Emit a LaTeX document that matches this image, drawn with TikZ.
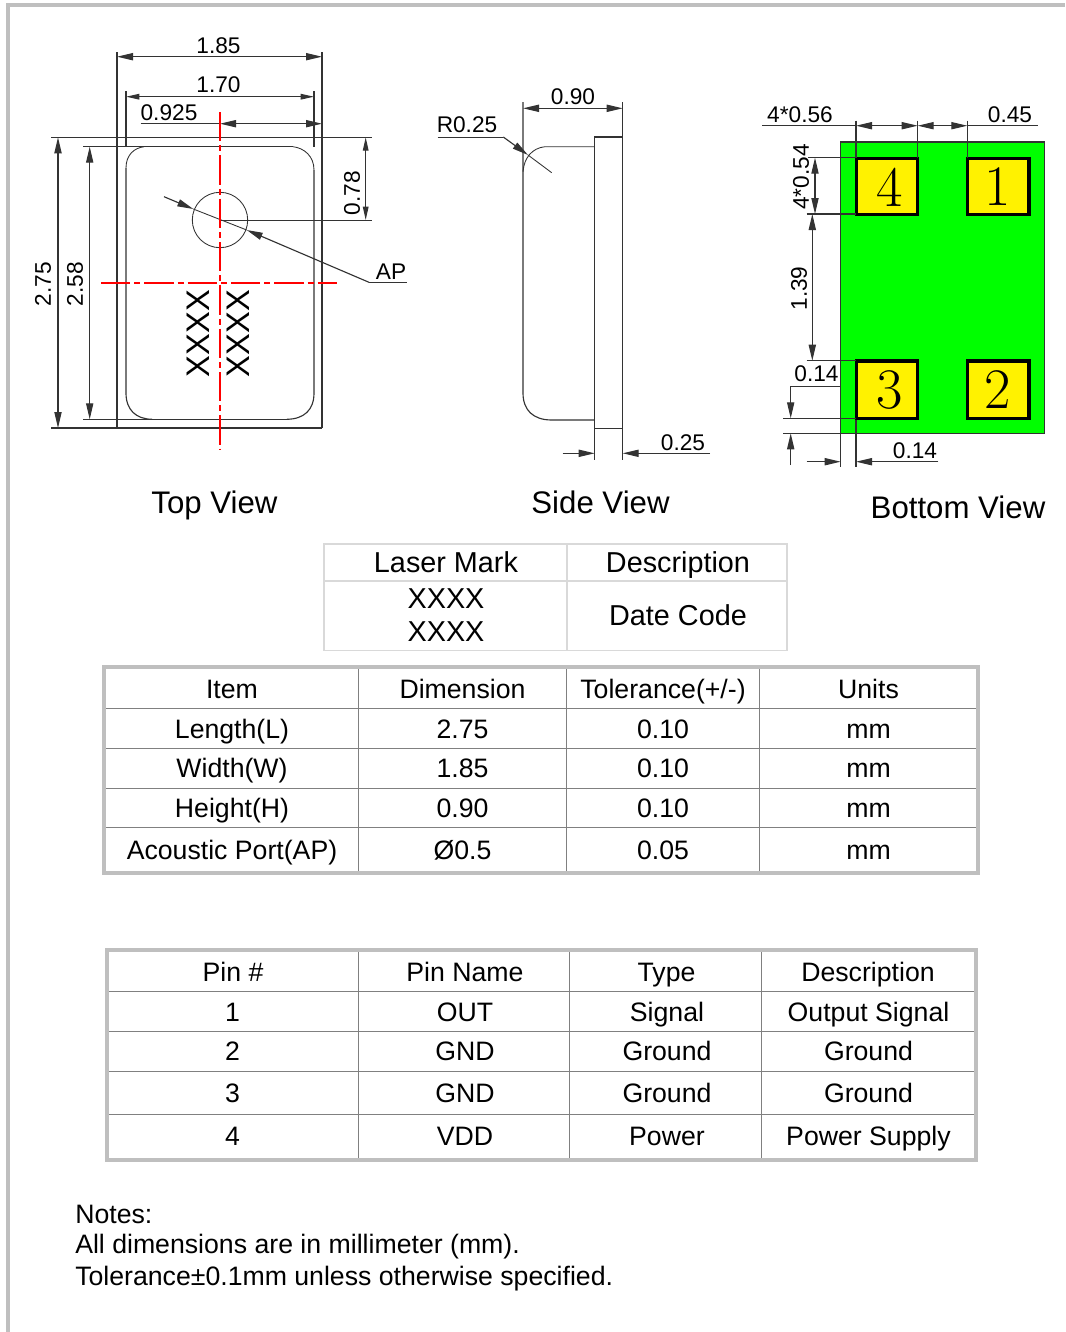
\documentclass[tikz,border=0pt]{standalone}
\usepackage{fontspec}
\setsansfont{Liberation Sans}
\usetikzlibrary{arrows.meta}
\tikzset{
  >={Triangle[length=12pt,width=5.4pt]},
  outline/.style={draw=black!80,line width=0.85pt},
  thin outline/.style={draw=black!80,line width=0.65pt},
  dim/.style={outline,<->},
  dim small/.style={outline,<->,>={Triangle[length=10pt,width=4.2pt]}},
  lead/.style={outline,->},
  center line/.style={draw={rgb, 255:red, 255; green, 0; blue, 0},line width=1.2pt,dash pattern=on 22pt off 3pt on 4.5pt off 3pt},
  dimlabel/.style={inner sep=0pt,font=\sffamily\fontsize{17}{20}\selectfont},
  viewlabel/.style={inner sep=0pt,font=\sffamily\fontsize{23.4}{27}\selectfont},
  marklabel/.style={inner sep=0pt,rotate=90,font=\sffamily\fontsize{24.5}{28}\selectfont},
  padnum/.style={inner sep=0pt,font=\rmfamily\fontsize{43}{50}\selectfont},
  pad/.style={draw=black,fill=yellow,line width=2.6pt},
  cell/.style={inner sep=0pt,anchor=base,font=\sffamily\fontsize{20}{24}\selectfont},
  markcell/.style={inner sep=0pt,anchor=base,font=\sffamily\fontsize{21.6}{26}\selectfont},
  frame/.style={draw=black!25,line width=2.8pt},
  grid/.style={draw=black!50,line width=0.7pt},
  markgrid/.style={draw=black!15,line width=1.2pt}
}

\begin{document}
\begin{tikzpicture}[x=0.75pt,y=0.75pt,yscale=-1,xscale=1]
\useasboundingbox (0,0) rectangle (1065,1332);

%Page border
\draw [frame,line width=3pt] (1065,5) -- (8,5) -- (8,1332) ;

%Top View: extension lines
\draw [outline] (117,52) -- (117,428) ;
\draw [outline] (322,52) -- (322,428) ;
\draw [outline] (126,91) -- (126,147) ;
\draw [outline] (314,91) -- (314,147) ;
\draw [outline] (51,137.3) -- (372,137.3) ;
\draw [outline] (51,428) -- (322,428) ;
\draw [outline] (83,146.7) -- (293,146.7) ;
\draw [outline] (83,419.3) -- (287,419.3) ;
\draw [thin outline] (220,220.4) -- (372,220.4) ;
%Top View: body
\draw [thin outline] (144,146.7) .. controls (134,148) and (126,155) .. (126,168) ;
\draw [outline] (126,168) -- (126,393) .. controls (126,410) and (136,419) .. (152,419.3) ;
\draw [outline] (287,419.3) .. controls (304,419) and (314,410) .. (314,393) -- (314,170) ;
\draw [thin outline] (314,170) .. controls (314,156) and (304,148) .. (293,146.7) ;
\draw [thin outline] (220,220) circle [radius=27.7] ;
%Top View: dimensions
\draw [dim] (117,56.7) -- (322,56.7) ;
\draw [dim small] (126,96.7) -- (314,96.7) ;
\draw [dim] (220,123.7) -- (322,123.7) ;
\draw [outline] (140.7,123.7) -- (220,123.7) ;
\draw [dim] (58,137.3) -- (58,428) ;
\draw [dim] (89.7,146.7) -- (89.7,419.3) ;
\draw [dim small] (365.7,137.3) -- (365.7,220) ;
%Top View: acoustic port leader
\draw [lead] (164,196.7) -- (193.3,209) ;
\draw [thin outline] (193.3,209) -- (246.7,230) ;
\draw [lead] (369,282.3) -- (246.7,230) ;
\draw [thin outline] (369,282.3) -- (407,282.3) ;
%Top View: centre lines
\draw [center line] (219.8,112) -- (219.8,450) ;
\draw [center line] (101,282.7) -- (337,282.7) ;

% Text Node
\node [dimlabel] (lbltopw) at (218.5,45.5) {1.85};
\node [dimlabel] (lblpadw) at (218.5,84.5) {1.70};
\node [dimlabel] (lblmidw) at (169,112.7) {0.925};
\node [dimlabel,rotate=90] (lblportd) at (352,193) {0.78};
\node [dimlabel,rotate=90] (lbltopl) at (43,284) {2.75};
\node [dimlabel,rotate=90] (lblbodyl) at (75,284) {2.58};
\node [dimlabel] (lblport) at (391,271.7) {AP};
\node [marklabel] (markleft) at (198.5,333.5) {XXXX};
\node [marklabel] (markright) at (238.5,333.5) {XXXX};
\node [viewlabel] (lbltopview) at (214.5,505) {Top View};

%Side View: body
\draw [outline] (594.7,137) rectangle (622.7,428.3) ;
\draw [outline] (523,102) -- (523,393) .. controls (523,410) and (533,420) .. (551.7,420) -- (594.7,420) ;
\draw [thin outline] (523,171.7) .. controls (524,158) and (532,148) .. (545,146.7) -- (594.7,146.7) ;
%Side View: dimensions
\draw [outline] (622.7,102) -- (622.7,137) ;
\draw [outline] (594.7,428.3) -- (594.7,460) ;
\draw [outline] (622.7,428.3) -- (622.7,460) ;
\draw [dim] (523,108.3) -- (622.7,108.3) ;
\draw [lead] (562.7,453.3) -- (594.7,453.3) ;
\draw [lead] (710,453.3) -- (622.7,453.3) ;
\draw [thin outline] (437.7,137) -- (503.3,137) ;
\draw [lead] (503.3,137) -- (528,155) ;
\draw [thin outline] (528,155) -- (551.7,172.7) ;

% Text Node
\node [dimlabel] (lblsideh) at (573,96.7) {0.90};
\node [dimlabel] (lblradius) at (467,124.8) {R0.25};
\node [dimlabel] (lbllid) at (683,442.7) {0.25};
\node [viewlabel] (lblsideview) at (600.5,502.5) {Side View};

%Bottom View: body and pads
\draw [fill={rgb, 255:red, 0; green, 255; blue, 0},draw=black!80,line width=0.9pt] (840.7,142) rectangle (1044.7,433.3) ;
\draw [pad] (856.3,158.3) rectangle (917.7,214.3) ;
\draw [pad] (967.6,158.3) rectangle (1029,214.3) ;
\draw [pad] (856.3,361) rectangle (917.7,418.3) ;
\draw [pad] (967.6,361) rectangle (1029,418.3) ;
%Bottom View: extension lines
\draw [outline] (856,120.7) -- (856,158) ;
\draw [outline] (917.7,120.7) -- (917.7,158) ;
\draw [outline] (967.3,120.7) -- (967.3,158) ;
\draw [outline] (856,420) -- (856,467) ;
\draw [outline] (840.7,433) -- (840.7,467) ;
\draw [outline] (808,157.7) -- (856,157.7) ;
\draw [outline] (806.7,214) -- (856,214) ;
\draw [outline] (806.7,360.7) -- (856,360.7) ;
\draw [outline] (783,418.3) -- (856,418.3) ;
\draw [outline] (783,433.3) -- (840.7,433.3) ;
%Bottom View: dimensions
\draw [thin outline] (762,125.7) -- (856,125.7) ;
\draw [thin outline] (967.3,125.7) -- (1038,125.7) ;
\draw [dim] (856,125.7) -- (917.7,125.7) ;
\draw [dim] (917.7,125.7) -- (967.3,125.7) ;
\draw [dim] (815,157.7) -- (815,214) ;
\draw [dim] (812.3,214) -- (812.3,360.7) ;
\draw [lead] (840.7,386.7) -- (790.7,386.7) -- (790.7,418.3) ;
\draw [lead] (790.7,465) -- (790.7,433.3) ;
\draw [lead] (806.7,461.7) -- (840.7,461.7) ;
\draw [lead] (938.3,461.7) -- (856,461.7) ;

% Text Node
\node [padnum] (padfour) at (889.5,187) {4};
\node [padnum] (padone) at (997.5,187) {1};
\node [padnum] (padthree) at (889.5,390) {3};
\node [padnum] (padtwo) at (998,390) {2};
\node [dimlabel] (lblpadlen) at (800,114.7) {4*0.56};
\node [dimlabel] (lblpadgap) at (1010,114.7) {0.45};
\node [dimlabel,rotate=90] (lblpadhgt) at (801,177) {4*0.54};
\node [dimlabel,rotate=90] (lblpadsep) at (799,288.5) {1.39};
\node [dimlabel] (lbledgey) at (816.5,373.7) {0.14};
\node [dimlabel] (lbledgex) at (915,450.7) {0.14};
\node [viewlabel] (lblbottomview) at (958,507.7) {Bottom View};

%Laser mark table
\draw [markgrid] (324,544) rectangle (786.7,650.3) ;
\draw [markgrid] (566.7,544) -- (566.7,650.3) ;
\draw [markgrid] (324,580.7) -- (786.7,580.7) ;

% Text Node
\node [markcell] (markhead) at (446,572) {Laser Mark};
\node [markcell] (deschead) at (678,572) {Description};
\node [markcell] (markone) at (446,608.5) {XXXX};
\node [markcell] (marktwo) at (446,641.5) {XXXX};
\node [markcell] (datecode) at (678,625.5) {Date Code};

%Dimension table
\draw [grid] (358.3,667) -- (358.3,873) ;
\draw [grid] (566.7,667) -- (566.7,873) ;
\draw [grid] (759.3,667) -- (759.3,873) ;
\draw [grid] (104,708.3) -- (978,708.3) ;
\draw [grid] (104,748.3) -- (978,748.3) ;
\draw [grid] (104,788.3) -- (978,788.3) ;
\draw [grid] (104,827.7) -- (978,827.7) ;
\draw [frame] (104,667) rectangle (978,873) ;

% Text Node
\node [cell] (itemhead) at (232,698.7) {Item};
\node [cell] (dimhead) at (462.5,698.7) {Dimension};
\node [cell] (tolhead) at (663,698.7) {Tolerance(+/-)};
\node [cell] (unithead) at (868.5,698.7) {Units};
\node [cell] (lenitem) at (232,738.7) {Length(L)};
\node [cell] (lendim) at (462.5,738.7) {2.75};
\node [cell] (lentol) at (663,738.7) {0.10};
\node [cell] (lenunit) at (868.5,738.7) {mm};
\node [cell] (widitem) at (232,777.7) {Width(W)};
\node [cell] (widdim) at (462.5,777.7) {1.85};
\node [cell] (widtol) at (663,777.7) {0.10};
\node [cell] (widunit) at (868.5,777.7) {mm};
\node [cell] (hgtitem) at (232,817.7) {Height(H)};
\node [cell] (hgtdim) at (462.5,817.7) {0.90};
\node [cell] (hgttol) at (663,817.7) {0.10};
\node [cell] (hgtunit) at (868.5,817.7) {mm};
\node [cell] (apitem) at (232,859) {Acoustic Port(AP)};
\node [cell] (apdim) at (462.5,859) {Ø0.5};
\node [cell] (aptol) at (663,859) {0.05};
\node [cell] (apunit) at (868.5,859) {mm};

%Pin table
\draw [grid] (358.3,950) -- (358.3,1160) ;
\draw [grid] (569.3,950) -- (569.3,1160) ;
\draw [grid] (761.3,950) -- (761.3,1160) ;
\draw [grid] (107,991.4) -- (976,991.4) ;
\draw [grid] (107,1031.4) -- (976,1031.4) ;
\draw [grid] (107,1071.4) -- (976,1071.4) ;
\draw [grid] (107,1114.4) -- (976,1114.4) ;
\draw [frame] (107,950) rectangle (976,1160) ;

% Text Node
\node [cell] (pinhead) at (233,981.7) {Pin \#};
\node [cell] (namehead) at (465,981.7) {Pin Name};
\node [cell] (typehead) at (666.5,981.7) {Type};
\node [cell] (pindeschead) at (868,981.7) {Description};
\node [cell] (pinone) at (232.5,1021) {1};
\node [cell] (nameone) at (465,1021) {OUT};
\node [cell] (typeone) at (667,1021) {Signal};
\node [cell] (descone) at (868.5,1021) {Output Signal};
\node [cell] (pintwo) at (232.5,1060.7) {2};
\node [cell] (nametwo) at (465,1060.7) {GND};
\node [cell] (typetwo) at (667,1060.7) {Ground};
\node [cell] (desctwo) at (868.5,1060.7) {Ground};
\node [cell] (pinthree) at (232.5,1102.7) {3};
\node [cell] (namethree) at (465,1102.7) {GND};
\node [cell] (typethree) at (667,1102.7) {Ground};
\node [cell] (descthree) at (868.5,1102.7) {Ground};
\node [cell] (pinfour) at (232.5,1145) {4};
\node [cell] (namefour) at (465,1145) {VDD};
\node [cell] (typefour) at (667,1145) {Power};
\node [cell] (descfour) at (868.5,1145) {Power Supply};

% Text Node
\node [cell,anchor=base west] (notesone) at (75,1223) {Notes:};
\node [cell,anchor=base west] (notestwo) at (75,1253) {All dimensions are in millimeter (mm).};
\node [cell,anchor=base west] (notesthree) at (75,1285) {Tolerance±0.1mm unless otherwise specified.};

\end{tikzpicture}
\end{document}
